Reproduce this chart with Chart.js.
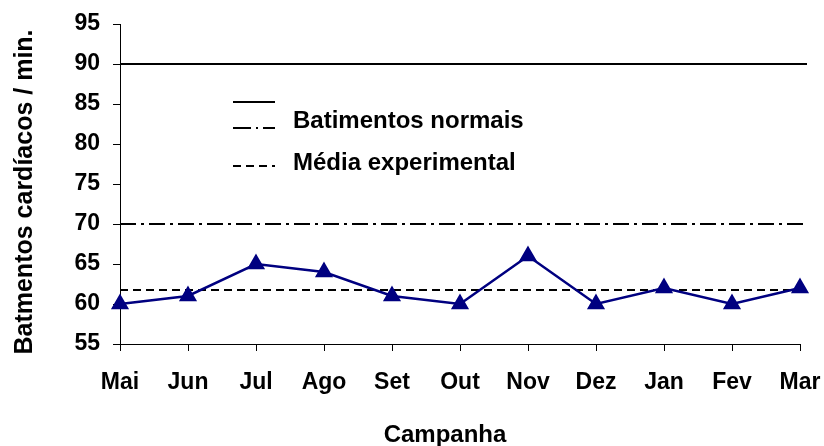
<!DOCTYPE html>
<html><head><meta charset="utf-8">
<script src="https://cdn.jsdelivr.net/npm/chart.js@4"></script>
<style>html,body{margin:0;padding:0;background:#fff}canvas{display:block}</style>
</head><body>
<canvas id="c" width="824" height="446"></canvas>
<script>
const categories = ["Mai","Jun","Jul","Ago","Set","Out","Nov","Dez","Jan","Fev","Mar"];
const heartRate = [60,61,65,64,61,60,66,60,62,60,62];
const normalUpper = 90;
const normalLower = 70;
const experimentalMean = 61.8;
const legendLabels = ["", "Batimentos normais", "Média experimental"];
const yTitle = "Batmentos cardíacos / min.";
const xTitle = "Campanha";
const yTicksMin = 55, yTicksMax = 95, yStep = 5;

const FONT = "'Liberation Sans', Arial, sans-serif";
const dashDot = [16,5,3,5];
const dashed = [8,5];

const refPlugin = {
  id: 'refs',
  beforeDatasetsDraw(chart) {
    const ctx = chart.ctx, y = chart.scales.y, a = chart.chartArea;
    const lines = [[normalUpper, []], [normalLower, dashDot], [experimentalMean, dashed]];
    ctx.save();
    ctx.strokeStyle = '#000'; ctx.lineWidth = 2;
    for (const [v, d] of lines) {
      const py = Math.round(y.getPixelForValue(v));
      ctx.setLineDash(d);
      ctx.beginPath(); ctx.moveTo(a.left, py); ctx.lineTo(a.right + 7, py); ctx.stroke();
    }
    // legend
    const lx = a.left + 113, tx = a.left + 173;
    const samples = [[[], a.top + 78], [[18,5,2,5], a.top + 104], [dashed, a.top + 142]];
    const baselines = [null, a.top + 104, a.top + 146];
    ctx.font = "bold 24px " + FONT;
    ctx.fillStyle = '#000'; ctx.textBaseline = 'alphabetic'; ctx.textAlign = 'left';
    samples.forEach(([d, py], i) => {
      ctx.setLineDash(d);
      ctx.beginPath(); ctx.moveTo(lx, py); ctx.lineTo(lx + 42, py); ctx.stroke();
      if (legendLabels[i]) ctx.fillText(legendLabels[i], tx, baselines[i]);
    });
    ctx.setLineDash([]);
    // axis titles
    ctx.font = "bold 24px " + FONT;
    ctx.textAlign = 'center';
    ctx.fillText(xTitle, a.left + 325, chart.height - 4);
    ctx.save();
    ctx.translate(32, (a.top + a.bottom) / 2 + 8);
    ctx.rotate(-Math.PI / 2);
    ctx.font = "bold 25px " + FONT;
    ctx.fillText(yTitle, 0, 0);
    ctx.restore();
    ctx.restore();
  }
};

new Chart(document.getElementById('c'), {
  type: 'line',
  data: {
    labels: categories,
    datasets: [{
      data: heartRate,
      borderColor: '#000080',
      backgroundColor: '#000080',
      borderWidth: 2.5,
      pointStyle: 'triangle',
      pointRadius: 8,
      pointHoverRadius: 8,
      tension: 0
    }]
  },
  options: {
    responsive: false,
    animation: false,
    events: [],
    layout: { padding: { top: 24, right: 24, left: 0, bottom: 0 } },
    plugins: { legend: { display: false }, tooltip: { enabled: false } },
    scales: {
      x: {
        offset: false,
        grid: { drawOnChartArea: false, color: '#000', tickLength: 7, tickWidth: 1 },
        border: { color: '#000', width: 1 },
        ticks: { color: '#000', font: { family: FONT, size: 23, weight: 'bold' }, padding: 18, maxRotation: 0, autoSkip: false },
        afterFit(s) { s.height = 102; s.paddingLeft = 0; s.paddingRight = 0; }
      },
      y: {
        min: yTicksMin, max: yTicksMax,
        grid: { drawOnChartArea: false, color: '#000', tickLength: 7, tickWidth: 1 },
        border: { color: '#000', width: 1 },
        ticks: { stepSize: yStep, color: '#000', font: { family: FONT, size: 23, weight: 'bold' }, padding: 13 },
        afterFit(s) { s.width = 120; s.paddingTop = 0; s.paddingBottom = 0; }
      }
    }
  },
  plugins: [refPlugin]
});
</script>
</body></html>
